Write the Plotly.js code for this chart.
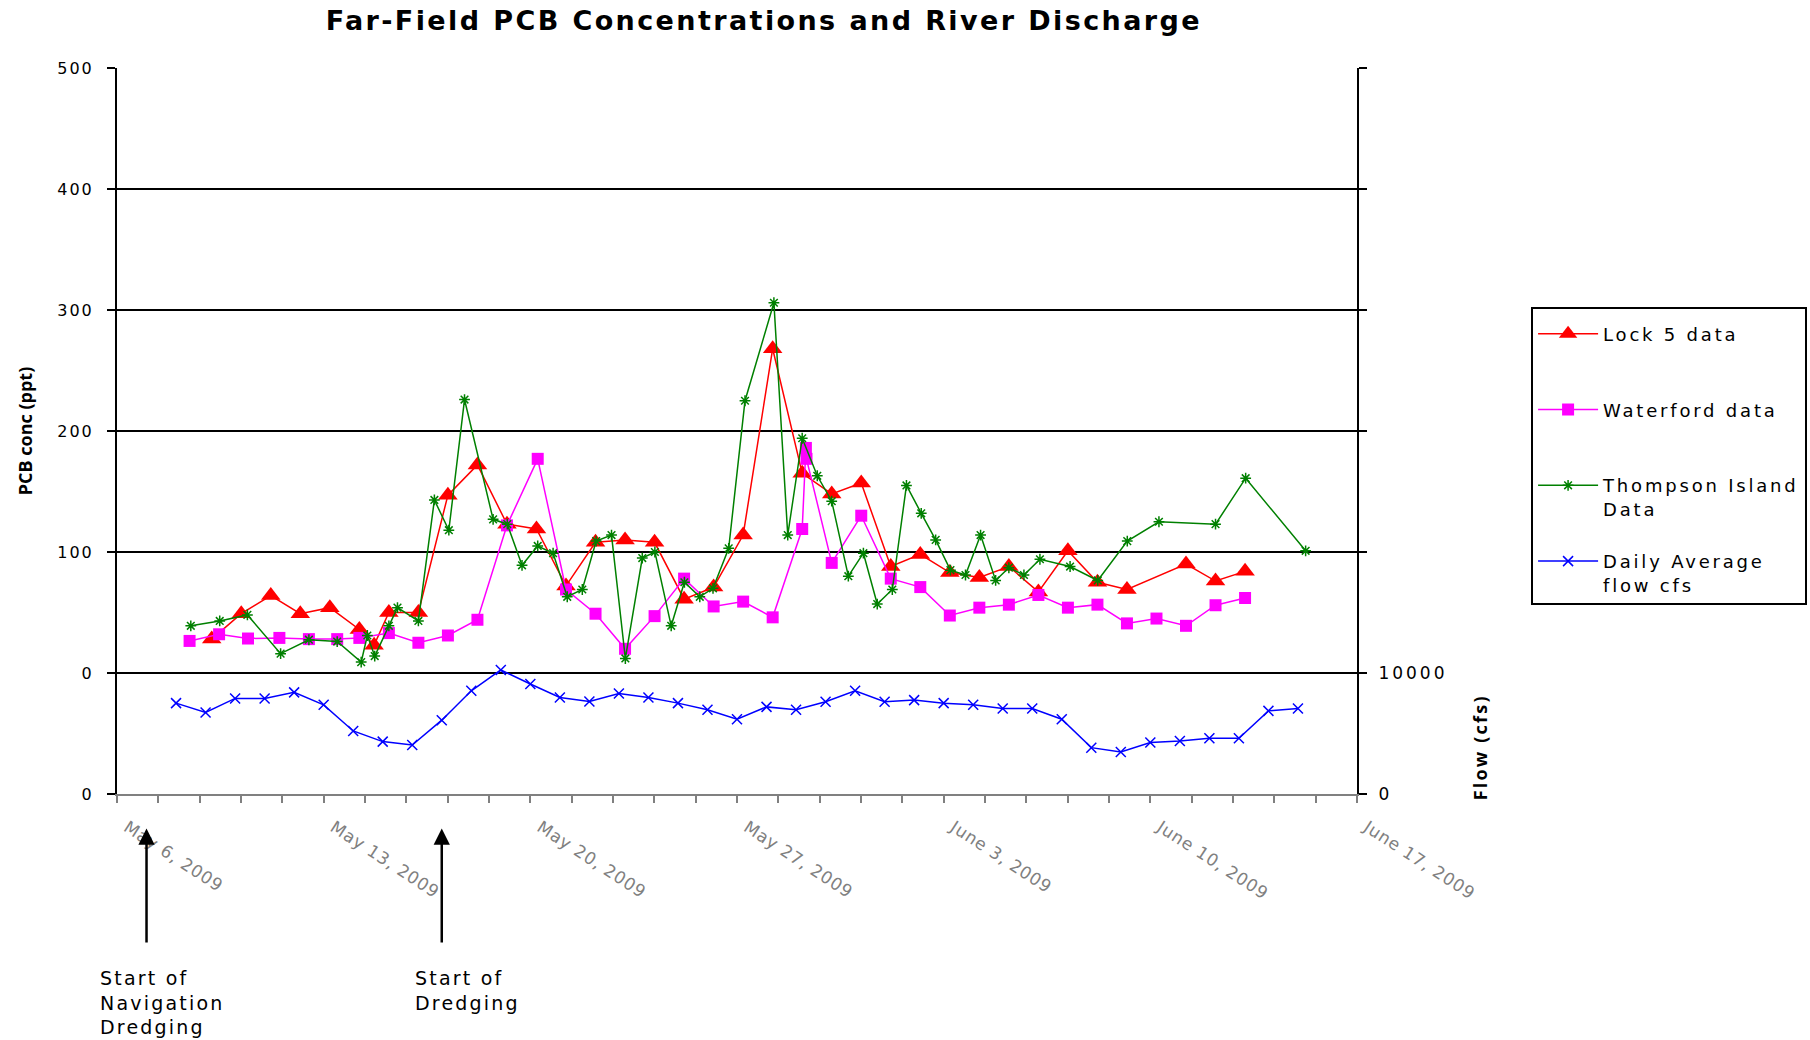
<!DOCTYPE html>
<html>
<head>
<meta charset="utf-8">
<script src="https://cdn.plot.ly/plotly-3.0.1.min.js"></script>
<style>
  html, body { margin: 0; padding: 0; background: #fff; }
  #chart { width: 1810px; height: 1040px; }
  .legendtext { letter-spacing: 2.8px; }
  .ytick text { letter-spacing: 2px; }
  .y2tick text { letter-spacing: 3px; }
  .xtick text { letter-spacing: 0.8px; }
  .gtitle { letter-spacing: 2.4px; }
  .annotation-text { letter-spacing: 2.2px; }
</style>
</head>
<body>
<div id="chart"></div>
<script>
// ---- Data ----
const chartTitle = 'Far-Field PCB Concentrations and River Discharge';

const lock5Dates = ['2009-05-09 05:00','2009-05-10 05:00','2009-05-11 05:00','2009-05-12 05:00','2009-05-13 05:00','2009-05-14 05:00','2009-05-14 17:00','2009-05-15 05:00','2009-05-16 05:00','2009-05-17 05:00','2009-05-18 05:00','2009-05-19 05:00','2009-05-20 05:00','2009-05-21 05:00','2009-05-22 05:00','2009-05-23 05:00','2009-05-24 05:00','2009-05-25 05:00','2009-05-26 05:00','2009-05-27 05:00','2009-05-28 05:00','2009-05-29 05:00','2009-05-30 05:00','2009-05-31 05:00','2009-06-01 05:00','2009-06-02 05:00','2009-06-03 05:00','2009-06-04 05:00','2009-06-05 05:00','2009-06-06 05:00','2009-06-07 05:00','2009-06-08 05:00','2009-06-09 05:00','2009-06-11 05:00','2009-06-12 05:00','2009-06-13 05:00'];
const lock5Values = [28,49,64,49,54,36,23,50,50,147,172,123,119,72,108,110,108,61,71,114,268,165,148,157,88,98,83,79,88,67,101,75,69,90,76,84];

const waterfordDates = ['2009-05-08 11:00','2009-05-09 11:00','2009-05-10 10:30','2009-05-11 12:00','2009-05-12 12:00','2009-05-13 11:00','2009-05-14 05:00','2009-05-15 05:00','2009-05-16 05:00','2009-05-17 05:00','2009-05-18 05:00','2009-05-19 05:00','2009-05-20 06:00','2009-05-21 05:00','2009-05-22 05:00','2009-05-23 05:00','2009-05-24 05:00','2009-05-25 05:00','2009-05-26 05:00','2009-05-27 05:00','2009-05-28 05:00','2009-05-29 05:00','2009-05-29 08:00','2009-05-29 08:30','2009-05-30 05:00','2009-05-31 05:00','2009-06-01 05:00','2009-06-02 05:00','2009-06-03 05:00','2009-06-04 05:00','2009-06-05 05:00','2009-06-06 05:00','2009-06-07 05:00','2009-06-08 05:00','2009-06-09 05:00','2009-06-10 05:00','2009-06-11 05:00','2009-06-12 05:00','2009-06-13 05:00'];
const waterfordValues = [26.5,32,28.5,29,28,28,29,33,25,31,44,122,177,69,49,20,47,78,55,59,46,119,186,177,91,130,78,71,47.5,54,56.5,64.5,54,56.5,41,45,39,56,62];

const thompsonDates = ['2009-05-08 12:00','2009-05-09 11:30','2009-05-10 10:00','2009-05-11 13:00','2009-05-12 12:00','2009-05-13 11:00','2009-05-14 06:30','2009-05-14 11:30','2009-05-14 17:30','2009-05-15 05:00','2009-05-15 12:00','2009-05-16 05:00','2009-05-16 18:00','2009-05-17 05:45','2009-05-17 18:30','2009-05-18 17:45','2009-05-19 05:15','2009-05-19 17:15','2009-05-20 06:00','2009-05-20 18:30','2009-05-21 06:00','2009-05-21 18:15','2009-05-22 05:30','2009-05-22 18:00','2009-05-23 05:15','2009-05-23 19:00','2009-05-24 05:15','2009-05-24 18:30','2009-05-25 05:15','2009-05-25 17:45','2009-05-26 04:30','2009-05-26 17:15','2009-05-27 06:30','2009-05-28 06:00','2009-05-28 17:15','2009-05-29 05:00','2009-05-29 17:15','2009-05-30 05:00','2009-05-30 18:30','2009-05-31 06:45','2009-05-31 18:00','2009-06-01 06:15','2009-06-01 17:45','2009-06-02 05:45','2009-06-02 17:30','2009-06-03 05:30','2009-06-03 17:45','2009-06-04 06:00','2009-06-04 18:15','2009-06-05 05:00','2009-06-05 17:15','2009-06-06 06:15','2009-06-07 06:45','2009-06-08 05:15','2009-06-09 05:15','2009-06-10 07:00','2009-06-12 05:00','2009-06-13 05:30','2009-06-15 06:15'];
const thompsonValues = [39,43,48,16,27.5,26,9,31,14,39,54,43,143,118,226,127,123,89,105,99,63,69,109,114,12,95,100,39,75,63,70,103,225,306,114,194,163,142,80,99,57,69,155,132,110,85,81,114,76.5,87,81,94,88,76.5,109,125,123,161,101];

const flowDates = ['2009-05-08','2009-05-09','2009-05-10','2009-05-11','2009-05-12','2009-05-13','2009-05-14','2009-05-15','2009-05-16','2009-05-17','2009-05-18','2009-05-19','2009-05-20','2009-05-21','2009-05-22','2009-05-23','2009-05-24','2009-05-25','2009-05-26','2009-05-27','2009-05-28','2009-05-29','2009-05-30','2009-05-31','2009-06-01','2009-06-02','2009-06-03','2009-06-04','2009-06-05','2009-06-06','2009-06-07','2009-06-08','2009-06-09','2009-06-10','2009-06-11','2009-06-12','2009-06-13','2009-06-14','2009-06-15'];
const flowValues = [7510,6740,7900,7900,8400,7370,5210,4330,4050,6100,8530,10250,9090,7980,7650,8310,7980,7510,6960,6180,7200,6960,7620,8530,7620,7760,7510,7370,7070,7070,6180,3830,3470,4250,4380,4600,4600,6870,7070];

const pcbTickVals = [-100,0,100,200,300,400,500];
const pcbTickText = ['0','0','100','200','300','400','500'];
const flowTickVals = [0,10000,20000,30000,40000,50000,60000];
const flowTickText = ['0','10000','','','','',''];

const seriesNames = ['Lock 5 data<br> ', 'Waterford data<br> ', 'Thompson Island<br>Data', 'Daily Average<br>flow cfs'];

const eventDates = ['2009-05-07','2009-05-17'];
const eventLabels = ['Start of<br>Navigation<br>Dredging','Start of<br>Dredging'];

// ---- Traces ----
const traces = [
  { x: lock5Dates, y: lock5Values, name: seriesNames[0], legendgroup: 'a', type: 'scatter', mode: 'lines+markers',
    line: { color: '#FF0000', width: 1.5 }, marker: { symbol: 'triangle-up', size: 17, color: '#FF0000' } },
  { x: waterfordDates, y: waterfordValues, name: seriesNames[1], legendgroup: 'b', type: 'scatter', mode: 'lines+markers',
    line: { color: '#FF00FF', width: 1.5 }, marker: { symbol: 'square', size: 12, color: '#FF00FF' } },
  { x: thompsonDates, y: thompsonValues, name: seriesNames[2], legendgroup: 'c', type: 'scatter', mode: 'lines+markers',
    line: { color: '#008000', width: 1.5 }, marker: { symbol: 'asterisk-open', size: 9, color: '#008000', line: { color: '#008000', width: 1.5 } } },
  { x: flowDates, y: flowValues, name: seriesNames[3], legendgroup: 'd', yaxis: 'y2', type: 'scatter', mode: 'lines+markers',
    line: { color: '#0000FF', width: 1.5 }, marker: { symbol: 'x-thin-open', size: 10, color: '#0000FF', line: { color: '#0000FF', width: 1.5 } } }
];

// ---- Annotations ----
const annotations = [];
const textShift = [-49, -29];
eventDates.forEach((d, i) => {
  annotations.push({ x: d, xref: 'x', y: -0.0475, yref: 'paper', text: ' ', showarrow: true,
    axref: 'pixel', ayref: 'pixel', ax: 0, ay: 124, arrowhead: 2, arrowsize: 1.3, arrowwidth: 2.5, arrowcolor: '#000' });
  annotations.push({ x: d, xref: 'x', y: -0.236, yref: 'paper', xanchor: 'left', yanchor: 'top', xshift: textShift[i],
    text: eventLabels[i], showarrow: false, align: 'left',
    font: { family: 'DejaVu Sans, sans-serif', size: 19, color: '#000' } });
});
annotations.push({ x: 1.099, xref: 'paper', y: 0.064, yref: 'paper', text: 'Flow (cfs)', textangle: -90,
  showarrow: false, xanchor: 'center', yanchor: 'middle',
  font: { family: 'Open Sans, sans-serif', size: 18, color: '#000', weight: 'bold' } });

const layout = {
  width: 1810, height: 1040,
  paper_bgcolor: '#fff', plot_bgcolor: '#fff',
  margin: { l: 117, r: 453, t: 68, b: 246, autoexpand: false },
  showlegend: true,
  title: { text: chartTitle, x: 0.422, xanchor: 'center', y: 0.980, yanchor: 'middle',
    font: { family: 'DejaVu Sans, sans-serif', size: 27, color: '#000', weight: 'bold' } },
  xaxis: {
    type: 'date', range: ['2009-05-06', '2009-06-17'],
    tick0: '2009-05-06', dtick: 7 * 86400000, tickformat: '%B %-d, %Y', tickangle: 33,
    ticklabelshift: 10, ticklabelstandoff: 8,
    showline: true, linecolor: '#808080', linewidth: 2, ticks: 'outside', ticklen: 7, tickcolor: '#808080', tickwidth: 2,
    minor: { tick0: '2009-05-06', dtick: 1.4 * 86400000, ticks: 'outside', ticklen: 7, tickcolor: '#808080', tickwidth: 2, showgrid: false },
    showgrid: false, zeroline: false,
    tickfont: { family: 'DejaVu Sans, sans-serif', size: 17, color: '#808080' }
  },
  yaxis: {
    range: [-100, 500], tickvals: pcbTickVals, ticktext: pcbTickText,
    showline: true, linecolor: '#000', linewidth: 2, ticks: 'outside', ticklen: 8, tickcolor: '#000', tickwidth: 2,
    ticklabelstandoff: 10,
    showgrid: true, gridcolor: '#000', gridwidth: 2, zeroline: false,
    tickfont: { family: 'DejaVu Sans, sans-serif', size: 16, color: '#000' },
    title: { text: 'PCB conc (ppt)', standoff: 20, font: { family: 'Open Sans, sans-serif', size: 18, color: '#000', weight: 'bold' } }
  },
  yaxis2: {
    overlaying: 'y', side: 'right', range: [0, 60000], tickvals: flowTickVals, ticktext: flowTickText,
    showline: true, linecolor: '#000', linewidth: 2, ticks: 'outside', ticklen: 8, tickcolor: '#000', tickwidth: 2,
    ticklabelstandoff: 8,
    showgrid: false, zeroline: false,
    tickfont: { family: 'DejaVu Sans, sans-serif', size: 17, color: '#000' }
  },
  legend: {
    xref: 'container', yref: 'container',
    x: 0.8459, y: 0.7048, xanchor: 'left', yanchor: 'top',
    bgcolor: '#fff', bordercolor: '#000', borderwidth: 2,
    traceorder: 'grouped', tracegroupgap: 26, valign: 'top', itemwidth: 60,
    title: { text: ' ', font: { size: 5 } },
    font: { family: 'DejaVu Sans, sans-serif', size: 18, color: '#000' }
  },
  annotations: annotations
};

Plotly.newPlot('chart', traces, layout, { displayModeBar: false, staticPlot: true });
</script>
</body>
</html>
